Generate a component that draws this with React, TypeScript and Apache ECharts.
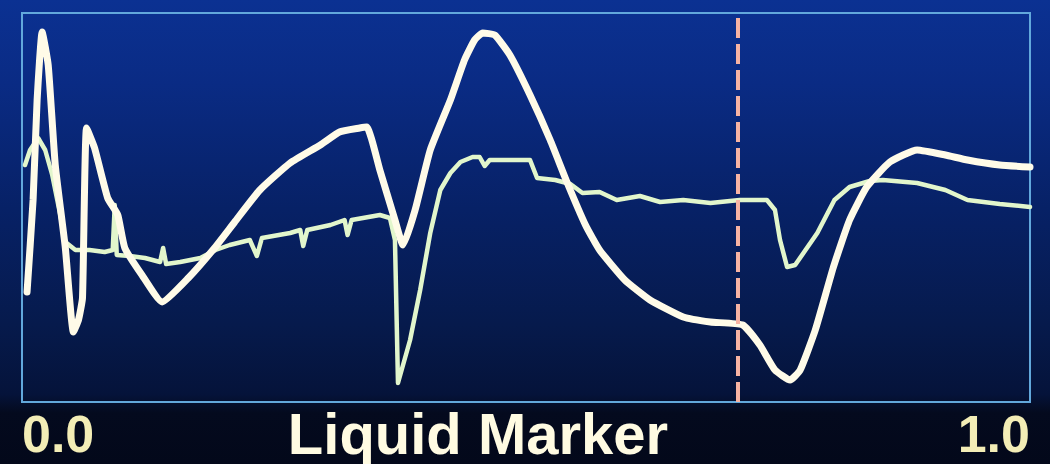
import React, { useEffect, useRef } from "react";
import * as echarts from "echarts";

// x position along the scan (0.0 .. 1.0), signal level in display units (0 .. 389)
const traceX: number[] = [
  0.005, 0.011, 0.015, 0.02, 0.026, 0.033, 0.043, 0.051, 0.056, 0.06, 0.064, 0.072, 0.085, 0.095,
  0.102, 0.119, 0.139, 0.165, 0.191, 0.211, 0.236, 0.266, 0.296, 0.315, 0.335, 0.342, 0.355, 0.37,
  0.378, 0.39, 0.405, 0.425, 0.439, 0.449, 0.457, 0.469, 0.484, 0.504, 0.524, 0.541, 0.559, 0.573,
  0.598, 0.623, 0.656, 0.683, 0.715, 0.732, 0.747, 0.762, 0.772, 0.787, 0.805, 0.821, 0.838, 0.861,
  0.888, 0.916, 0.938, 0.97, 1.0,
];
const traceY: number[] = [
  110, 202, 302, 370, 337, 237, 154, 70, 82, 104, 274, 254, 204, 187,
  154, 127, 100, 124, 154, 180, 212, 239, 257, 270, 274, 275, 232, 182,
  157, 192, 252, 302, 342, 362, 369, 367, 347, 307, 262, 219, 177, 152,
  122, 102, 85, 80, 77, 57, 32, 22, 32, 72, 135, 182, 215, 240,
  252, 247, 242, 237, 235,
];

const markerX: number[] = [
  0.003, 0.008, 0.016, 0.023, 0.03, 0.038, 0.043, 0.053, 0.067, 0.082, 0.09, 0.092, 0.094, 0.107,
  0.122, 0.137, 0.14, 0.143, 0.157, 0.177, 0.192, 0.206, 0.226, 0.233, 0.238, 0.266, 0.276, 0.279,
  0.283, 0.306, 0.32, 0.323, 0.327, 0.355, 0.365, 0.37, 0.373, 0.385, 0.395, 0.405, 0.415, 0.425,
  0.435, 0.447, 0.454, 0.459, 0.464, 0.474, 0.504, 0.511, 0.529, 0.544, 0.556, 0.573, 0.59, 0.613,
  0.633, 0.656, 0.683, 0.712, 0.739, 0.747, 0.752, 0.759, 0.767, 0.789, 0.806, 0.821, 0.841, 0.854,
  0.888, 0.916, 0.938, 0.97, 1.0,
];
const markerY: number[] = [
  237, 252, 264, 252, 227, 187, 160, 152, 152, 150, 152, 197, 147, 146,
  144, 140, 154, 138, 140, 144, 152, 157, 162, 146, 164, 169, 172, 156,
  172, 177, 182, 167, 182, 187, 184, 162, 19, 62, 112, 169, 212, 229,
  240, 245, 245, 236, 242, 242, 242, 224, 222, 218, 209, 210, 202, 206,
  200, 202, 199, 202, 202, 192, 162, 135, 137, 169, 202, 215, 221, 222,
  219, 212, 202, 198, 195,
];

const cursorX = 0.712;
const axisTicks: number[] = [0, 1];
const axisTitle = "Liquid Marker";

export default function App() {
  const ref = useRef<HTMLDivElement>(null);

  useEffect(() => {
    if (!ref.current) return;
    const chart = echarts.init(ref.current, null, { renderer: "svg" });
    const pair = (xs: number[], ys: number[]) => xs.map((x, i) => [x, ys[i]]);
    chart.setOption({
      animation: false,
      backgroundColor: "transparent",
      grid: {
        left: 22,
        top: 13,
        right: 20,
        bottom: 62,
        containLabel: false,
        outerBoundsMode: "none",
        show: true,
        borderColor: "#62a8dc",
        borderWidth: 2,
        backgroundColor: "transparent",
      },
      xAxis: {
        type: "value",
        min: axisTicks[0],
        max: axisTicks[axisTicks.length - 1],
        interval: 1,
        axisLine: { show: false },
        axisTick: { show: false },
        splitLine: { show: false },
        axisLabel: {
          formatter: (v: number) => v.toFixed(1),
          color: "#f3edb6",
          fontSize: 52,
          fontWeight: "bold",
          fontFamily: "Liberation Sans",
          margin: 6,
          alignMinLabel: "left",
          alignMaxLabel: "right",
        },
        name: axisTitle,
        nameLocation: "middle",
        nameGap: 2,
        nameMoveOverlap: false,
        nameTextStyle: {
          color: "#fffbe2",
          fontSize: 58,
          fontWeight: "bold",
          fontFamily: "Liberation Sans",
          padding: [0, 96, 0, 0],
        },
      },
      yAxis: {
        type: "value",
        min: 0,
        max: 389,
        show: false,
        splitLine: { show: false },
      },
      series: [
        {
          type: "line",
          data: pair(markerX, markerY),
          showSymbol: false,
          lineStyle: { color: "#e2f6cc", width: 4.5, join: "round", cap: "round" },
          z: 2,
        },
        {
          type: "line",
          data: pair(traceX, traceY),
          showSymbol: false,
          smooth: 0.15,
          lineStyle: { color: "#fffbe8", width: 7, join: "round", cap: "round" },
          z: 3,
          markLine: {
            silent: true,
            symbol: "none",
            label: { show: false },
            lineStyle: { color: "#f7b3a3", width: 4, type: [20, 6] },
            data: [{ xAxis: cursorX }],
          },
        },
      ],
    });
    return () => chart.dispose();
  }, []);

  return (
    <div
      ref={ref}
      style={{
        position: "fixed",
        left: 0,
        top: 0,
        width: 1050,
        height: 464,
        background:
          "linear-gradient(to bottom, #0b3192 0%, #0a2b84 18%, #072166 45%, #061a4c 70%, #05133a 85%, #040a1e 89%, #03081a 100%)",
      }}
    />
  );
}
